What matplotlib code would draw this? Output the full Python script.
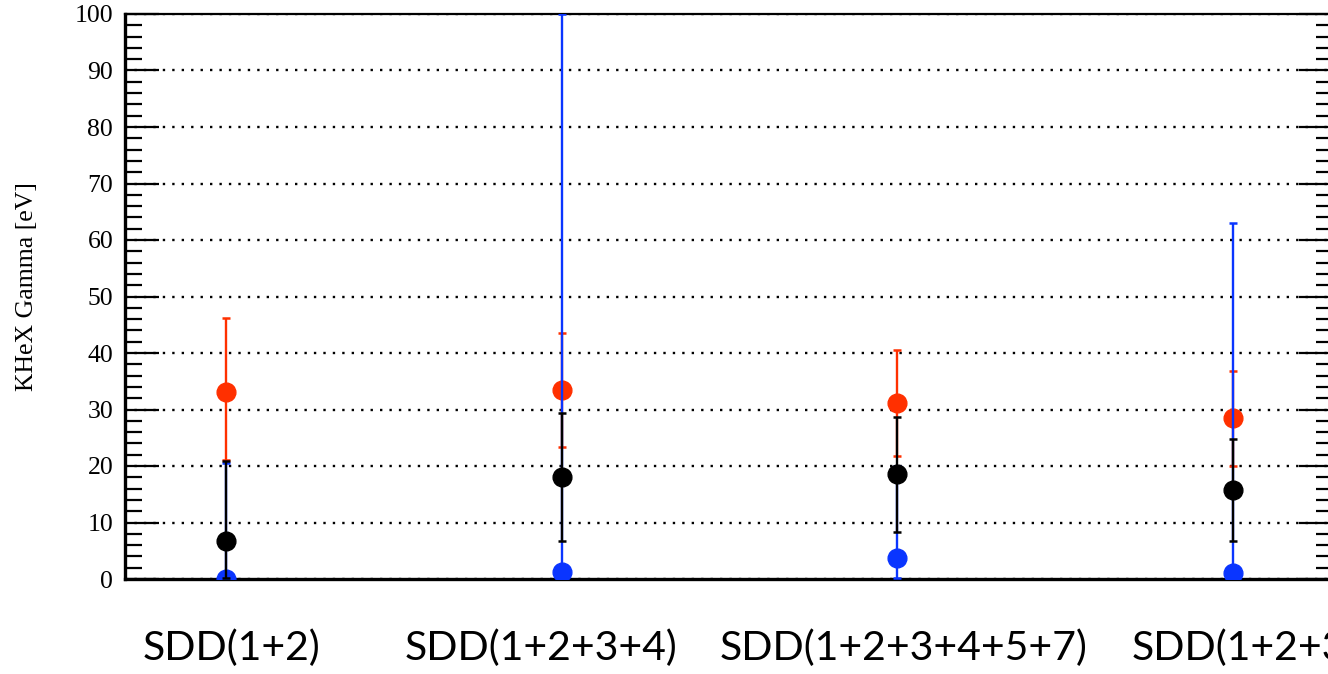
import matplotlib
matplotlib.use("Agg")
import matplotlib.pyplot as plt
import numpy as np
from matplotlib.ticker import MultipleLocator

categories = ["SDD(1+2)", "SDD(1+2+3+4)", "SDD(1+2+3+4+5+7)", "SDD(1+2+3+4+5+6+7+8)"]
xpos = [0, 1, 2, 3]

red_val = [33.1, 33.5, 31.2, 28.5]
red_hi = [46.2, 43.5, 40.5, 36.8]
red_lo = [21.0, 23.4, 21.8, 20.0]

blue_val = [0.0, 1.2, 3.7, 1.1]
blue_hi = [20.5, 100.0, 20.0, 63.0]
blue_lo = [-8.0, -8.0, 0.1, -8.0]

black_val = [6.8, 18.0, 18.6, 15.7]
black_hi = [20.9, 29.4, 28.7, 24.8]
black_lo = [0.2, 6.7, 8.3, 6.7]

yticks = [0, 10, 20, 30, 40, 50, 60, 70, 80, 90, 100]

W, H = 1328, 674
fig = plt.figure(figsize=(W/100, H/100), dpi=100)
ax = fig.add_axes([125/W, 1-579/H, (1333-125)/W, (579-14)/H])

series = [
    (red_val, red_hi, red_lo, "#ff3000"),
    (blue_val, blue_hi, blue_lo, "#0a35ff"),
    (black_val, black_hi, black_lo, "#000000"),
]
z = 3
for val, hi, lo, col in series:
    v = np.array(val); h = np.array(hi); l = np.array(lo)
    ax.errorbar(xpos, v, yerr=[v - l, h - v], fmt="o", color=col, ecolor=col,
                markersize=13.5, elinewidth=1.7, capsize=2.6, capthick=1.8,
                zorder=z)
    z += 1

ax.set_xlim(-0.301, (1333-226)/335.67)
ax.set_ylim(0, 100)
ax.set_yticks(yticks)
ax.yaxis.set_minor_locator(MultipleLocator(2))
ax.set_yticklabels([str(t) for t in yticks], family="Liberation Serif", fontsize=18.5)
ax.tick_params(axis="y", which="major", direction="in", length=24.5, width=1.6,
               left=True, right=True, pad=8.5)
ax.tick_params(axis="y", which="minor", direction="in", length=12, width=1.6,
               left=True, right=True)
ax.tick_params(axis="x", which="both", bottom=False, top=False, labelbottom=False)

ax.grid(axis="y", which="major", color="black", linestyle=(0, (1, 3)), linewidth=1.7, zorder=1)
ax.set_axisbelow(True)

for side, lw in [("left", 2.4), ("bottom", 2.4), ("top", 1.6), ("right", 1.6)]:
    ax.spines[side].set_linewidth(lw)
    ax.spines[side].set_color("black")

fig.text(27/W, 1-182/H, "KHeX Gamma [eV]", rotation=90, ha="center", va="top",
         family="Liberation Serif", fontsize=18.5)

label_left = [143, 405, 720, 1132]
for lx, lab in zip(label_left, categories):
    fig.text(lx/W, 1-660/H, lab, ha="left", va="baseline", family="Lato", fontsize=29.5)

fig.savefig("out.png", dpi=100)
